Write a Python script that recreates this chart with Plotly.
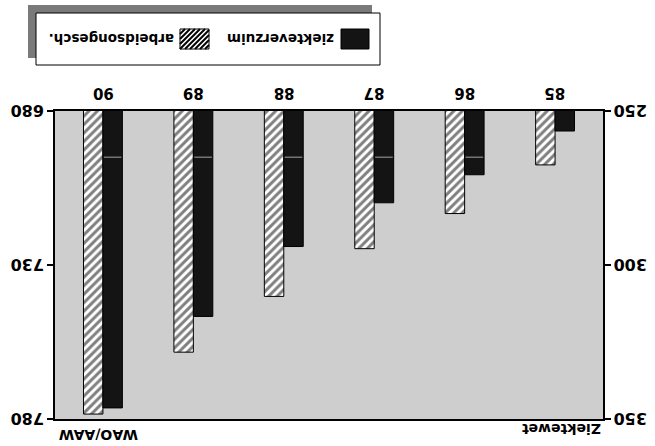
import plotly.graph_objects as go

years = ["85", "86", "87", "88", "89", "90"]
ziekteverzuim = [256.5, 270.7, 279.8, 294.0, 316.7, 346.4]      # Ziektewet axis
arbeidsongesch = [697.5, 713.3, 724.7, 740.2, 758.3, 778.4]     # WAO/AAW axis
ziektewet_ticks = [250, 300, 350]
wao_ticks = [680, 730, 780]
legend_labels = ["ziekteverzuim", "arbeidsongesch."]
left_title = "Ziektewet"
right_title = "WAO/AAW"
scan_streak = 265  # grey scanner streak visible across the dark bars

# ---- layout geometry (pixels) ----
W, H = 655, 446
L, R, T, B = 55, 603, 111, 419
FONT = "DejaVu Sans"
BARGAP = 0.57
BW = (1 - BARGAP) / 2


def px(x):
    return (x - L) / (R - L)


def py(y):
    return (B - y) / (B - T)


fig = go.Figure()
fig.add_trace(go.Bar(
    x=years, y=ziekteverzuim, yaxis="y2", offsetgroup="1", name=legend_labels[0],
    marker=dict(color="#141414", line=dict(color="black", width=1)),
    showlegend=False,
))
fig.add_trace(go.Bar(
    x=years, y=arbeidsongesch, yaxis="y", offsetgroup="2", name=legend_labels[1],
    marker=dict(color="white",
                pattern=dict(shape="/", fgcolor="black", bgcolor="white", size=6, solidity=0.5),
                line=dict(color="black", width=1)),
    showlegend=False,
))

tick_font = dict(family=FONT, size=16, color="black", weight="bold")
cat_font = dict(family=FONT, size=15, color="black", weight="bold")
title_font = dict(family=FONT, size=14, color="black", weight="bold")
ann = []
# upside-down tick labels
for v in wao_ticks:
    ann.append(dict(x=0, xref="paper", y=v, yref="y", text=str(v), showarrow=False,
                    textangle=180, xanchor="right", yanchor="middle", xshift=-9, font=tick_font))
for v in ziektewet_ticks:
    ann.append(dict(x=1, xref="paper", y=v, yref="y2", text=str(v), showarrow=False,
                    textangle=180, xanchor="left", yanchor="middle", xshift=9, font=tick_font))
for i, c in enumerate(years):
    ann.append(dict(x=i, xref="x", y=1, yref="paper", text=c, showarrow=False,
                    textangle=180, xanchor="center", yanchor="middle", yshift=18, font=cat_font))
# axis titles (upside-down)
ann.append(dict(x=1, xref="paper", y=0, yref="paper", text=left_title, showarrow=False,
                textangle=180, xanchor="right", yanchor="middle", yshift=-10, font=title_font))
ann.append(dict(x=0, xref="paper", y=0, yref="paper", text=right_title, showarrow=False,
                textangle=180, xanchor="left", yanchor="middle", xshift=2, yshift=-16, font=title_font))

shapes = []
# scanner streak inside the dark bars
for i, v in enumerate(ziekteverzuim):
    if v > scan_streak:
        shapes.append(dict(type="line", xref="x", yref="y2", x0=i - BW + 0.01, x1=i - 0.01,
                           y0=scan_streak, y1=scan_streak,
                           line=dict(color="#8c8c8c", width=1.2), layer="above"))

# ---- custom upside-down legend ----
shapes.append(dict(type="rect", xref="paper", yref="paper", x0=px(28), x1=px(372), y0=py(58), y1=py(5),
                   fillcolor="#7a7a7a", line=dict(width=0), layer="above"))
shapes.append(dict(type="rect", xref="paper", yref="paper", x0=px(36), x1=px(380), y0=py(65), y1=py(13),
                   fillcolor="white", line=dict(color="black", width=1), layer="above"))
# dark swatch
dx0, dx1, dy0, dy1 = 341, 369, 29, 49
shapes.append(dict(type="rect", xref="paper", yref="paper", x0=px(dx0), x1=px(dx1), y0=py(dy1), y1=py(dy0),
                   fillcolor="#141414", line=dict(color="black", width=1), layer="above"))
# hatched swatch
hx0, hx1, hy0, hy1 = 180, 209, 29, 49
shapes.append(dict(type="rect", xref="paper", yref="paper", x0=px(hx0), x1=px(hx1), y0=py(hy1), y1=py(hy0),
                   fillcolor="white", line=dict(color="black", width=1), layer="above"))
h = hy1 - hy0
for k in range(-h, hx1 - hx0, 5):
    sx, sy = hx0 + k, hy1
    ex, ey = hx0 + k + h, hy0
    if sx < hx0:
        t = hx0 - sx
        sx, sy = hx0, hy1 - t
    if ex > hx1:
        t = ex - hx1
        ex, ey = hx1, hy0 + t
    shapes.append(dict(type="line", xref="paper", yref="paper", x0=px(sx), y0=py(sy), x1=px(ex), y1=py(ey),
                       line=dict(color="black", width=2), layer="above"))

leg_font = dict(family=FONT, size=13.5, color="black", weight="bold")
ann.append(dict(x=px(336), xref="paper", y=py(39), yref="paper", text=legend_labels[0], showarrow=False,
                textangle=180, xanchor="right", yanchor="middle", font=leg_font))
ann.append(dict(x=px(176), xref="paper", y=py(39), yref="paper", text=legend_labels[1], showarrow=False,
                textangle=180, xanchor="right", yanchor="middle", font=leg_font))

fig.update_layout(
    width=W, height=H,
    margin=dict(l=L, r=W - R, t=T, b=H - B, pad=0),
    paper_bgcolor="white", plot_bgcolor="#cecece",
    barmode="group", bargap=BARGAP, bargroupgap=0,
    showlegend=False,
    xaxis=dict(type="category", categoryorder="array", categoryarray=years,
               range=[5.53, -0.53], side="top", showticklabels=False, ticks="",
               showline=True, mirror=True, linecolor="black", linewidth=1.5,
               showgrid=False, zeroline=False),
    yaxis=dict(range=[780, 680], tickvals=wao_ticks, showticklabels=False,
               ticks="outside", ticklen=6, tickcolor="black", tickwidth=1.5,
               showline=True, linecolor="black", linewidth=1.5,
               showgrid=False, zeroline=False),
    yaxis2=dict(range=[350, 250], tickvals=ziektewet_ticks, showticklabels=False,
                overlaying="y", side="right",
                ticks="outside", ticklen=6, tickcolor="black", tickwidth=1.5,
                showline=True, linecolor="black", linewidth=1.5,
                showgrid=False, zeroline=False),
    annotations=ann,
    shapes=shapes,
)

fig.write_html("out.html", config={"displayModeBar": False},
               post_script="document.body.style.margin='0px';document.body.style.overflow='hidden';")
